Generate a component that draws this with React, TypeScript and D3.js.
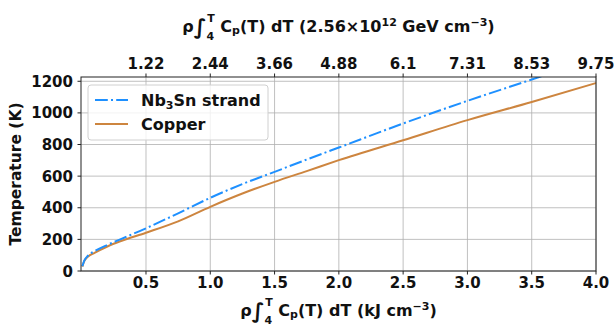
import React, { useEffect, useRef } from 'react';
import * as d3 from 'd3';

// deposited energy density (kJ/cm^3) vs temperature (K)
const nbX = [0.005, 0.02, 0.05, 0.1, 0.2, 0.3, 0.5, 0.75, 1.0, 1.25, 1.5, 1.75, 2.0, 2.5, 3.0, 3.5, 3.6];
const nbT = [30, 65, 98, 125, 165, 200, 270, 365, 463, 550, 627, 705, 781, 933, 1076, 1211, 1238];
const cuX = [0.005, 0.02, 0.05, 0.1, 0.2, 0.3, 0.5, 0.75, 1.0, 1.25, 1.5, 1.75, 2.0, 2.5, 3.0, 3.5, 4.0];
const cuT = [28, 62, 92, 115, 155, 188, 242, 314, 406, 490, 564, 632, 701, 827, 954, 1069, 1189];

const bottomTicks = [0.5, 1.0, 1.5, 2.0, 2.5, 3.0, 3.5, 4.0];
const topTickLabels = ['1.22', '2.44', '3.66', '4.88', '6.1', '7.31', '8.53', '9.75'];
const yTicks = [0, 200, 400, 600, 800, 1000, 1200];

const W = 616;
const H = 327;
const FONT = '"DejaVu Sans", sans-serif';

type Piece = { t: string; size?: number; dx?: number; dy?: number };

const App: React.FC = () => {
  const svgRef = useRef<SVGSVGElement>(null);

  useEffect(() => {
    if (!svgRef.current) return;
    document.body.style.margin = '0';
    const svg = d3.select(svgRef.current);
    svg.selectAll('*').remove();

    const left = 81, right = 596, top = 77, bottom = 271;

    const x = d3.scaleLinear().domain([0.0, 4.0]).range([81.7, right]);
    const y = d3.scaleLinear().domain([0, 1227]).range([bottom, top]);

    svg.append('defs').append('clipPath').attr('id', 'plotclip')
      .append('rect').attr('x', left).attr('y', top)
      .attr('width', right - left).attr('height', bottom - top);

    // grid
    const grid = svg.append('g').attr('stroke', '#b0b0b0').attr('stroke-width', 0.8);
    bottomTicks.forEach(v => {
      grid.append('line').attr('x1', x(v)).attr('x2', x(v)).attr('y1', top).attr('y2', bottom);
    });
    yTicks.forEach(v => {
      grid.append('line').attr('x1', left).attr('x2', right).attr('y1', y(v)).attr('y2', y(v));
    });

    // lines
    const line = d3.line<[number, number]>()
      .x(d => x(d[0]))
      .y(d => y(d[1]))
      .curve(d3.curveMonotoneX);

    const plot = svg.append('g').attr('clip-path', 'url(#plotclip)');
    plot.append('path')
      .attr('d', line(cuX.map((v, i) => [v, cuT[i]] as [number, number])) || '')
      .attr('fill', 'none')
      .attr('stroke', '#CD853F')
      .attr('stroke-width', 2);
    plot.append('path')
      .attr('d', line(nbX.map((v, i) => [v, nbT[i]] as [number, number])) || '')
      .attr('fill', 'none')
      .attr('stroke', '#1E90FF')
      .attr('stroke-width', 2)
      .attr('stroke-dasharray', '12.8,3.2,2,3.2');

    // spines
    svg.append('rect')
      .attr('x', left).attr('y', top)
      .attr('width', right - left).attr('height', bottom - top)
      .attr('fill', 'none').attr('stroke', '#222').attr('stroke-width', 1);

    const txt = svg.append('g')
      .attr('font-family', FONT).attr('font-weight', 'bold').attr('font-size', 15).attr('fill', '#111');

    // bottom ticks
    bottomTicks.forEach(v => {
      svg.append('line').attr('x1', x(v)).attr('x2', x(v)).attr('y1', bottom).attr('y2', bottom + 3.5)
        .attr('stroke', '#222');
      txt.append('text').attr('x', x(v)).attr('y', 288).attr('text-anchor', 'middle').text(v.toFixed(1));
    });
    // top ticks
    bottomTicks.forEach((v, i) => {
      svg.append('line').attr('x1', x(v)).attr('x2', x(v)).attr('y1', top).attr('y2', top - 3.5)
        .attr('stroke', '#222');
      txt.append('text').attr('x', x(v)).attr('y', 68.5).attr('text-anchor', 'middle').text(topTickLabels[i]);
    });
    // y ticks
    yTicks.forEach(v => {
      svg.append('line').attr('x1', left).attr('x2', left - 3.5).attr('y1', y(v)).attr('y2', y(v))
        .attr('stroke', '#222');
      txt.append('text').attr('x', 73).attr('y', y(v) + 5.5).attr('text-anchor', 'end').text(String(v));
    });

    txt.append('text')
      .attr('transform', `translate(21,${(top + bottom) / 2}) rotate(-90)`)
      .attr('text-anchor', 'middle')
      .attr('font-size', 15.5)
      .text('Temperature (K)');

    // integral labels with sub/superscripts
    const mathLabel = (yBase: number, unit: Piece[]) => {
      const pieces: Piece[] = [
        { t: 'ρ', size: 16 },
        { t: '∫', size: 21, dy: 2 },
        { t: '4', size: 11, dy: 6 },
        { t: 'T', size: 11, dx: -7, dy: -18 },
        { t: '\u00a0C', size: 16, dy: 10 },
        { t: 'p', size: 11, dy: 2 },
        { t: '(T) dT (', size: 16, dy: -2 },
        ...unit,
      ];
      const t = txt.append('text').attr('x', 0).attr('y', yBase);
      pieces.forEach(p => {
        const s = t.append('tspan').text(p.t).attr('font-size', p.size || 16);
        if (p.dx) s.attr('dx', p.dx);
        if (p.dy) s.attr('dy', p.dy);
      });
      const bb = (t.node() as SVGTextElement).getBBox();
      t.attr('x', (left + right) / 2 - bb.width / 2);
    };

    mathLabel(316, [
      { t: 'kJ cm' },
      { t: '−3', size: 11, dy: -6 },
      { t: ')', dy: 6 },
    ]);
    mathLabel(31.5, [
      { t: '2.56×10' },
      { t: '12', size: 11, dy: -6 },
      { t: '\u00a0GeV cm', dy: 6 },
      { t: '−3', size: 11, dy: -6 },
      { t: ')', dy: 6 },
    ]);

    // legend
    const lg = svg.append('g');
    lg.append('rect').attr('x', 88).attr('y', 85).attr('width', 180).attr('height', 55)
      .attr('rx', 3).attr('fill', '#fff').attr('fill-opacity', 0.8)
      .attr('stroke', '#d0d0d0').attr('stroke-width', 1);
    lg.append('line').attr('x1', 95).attr('x2', 128).attr('y1', 100).attr('y2', 100)
      .attr('stroke', '#1E90FF').attr('stroke-width', 2).attr('stroke-dasharray', '12.8,3.2,2,3.2');
    lg.append('line').attr('x1', 95).attr('x2', 128).attr('y1', 124).attr('y2', 124)
      .attr('stroke', '#CD853F').attr('stroke-width', 2);
    const l1 = lg.append('text').attr('x', 141).attr('y', 105.5)
      .attr('font-family', FONT).attr('font-weight', 'bold').attr('font-size', 16).attr('fill', '#111');
    l1.append('tspan').text('Nb');
    l1.append('tspan').text('3').attr('font-size', 11).attr('dy', 3);
    l1.append('tspan').text('Sn strand').attr('dy', -3);
    lg.append('text').attr('x', 141).attr('y', 129.5)
      .attr('font-family', FONT).attr('font-weight', 'bold').attr('font-size', 16).attr('fill', '#111')
      .text('Copper');
  }, []);

  return <svg ref={svgRef} width={W} height={H} style={{ display: 'block' }} />;
};

export default App;
